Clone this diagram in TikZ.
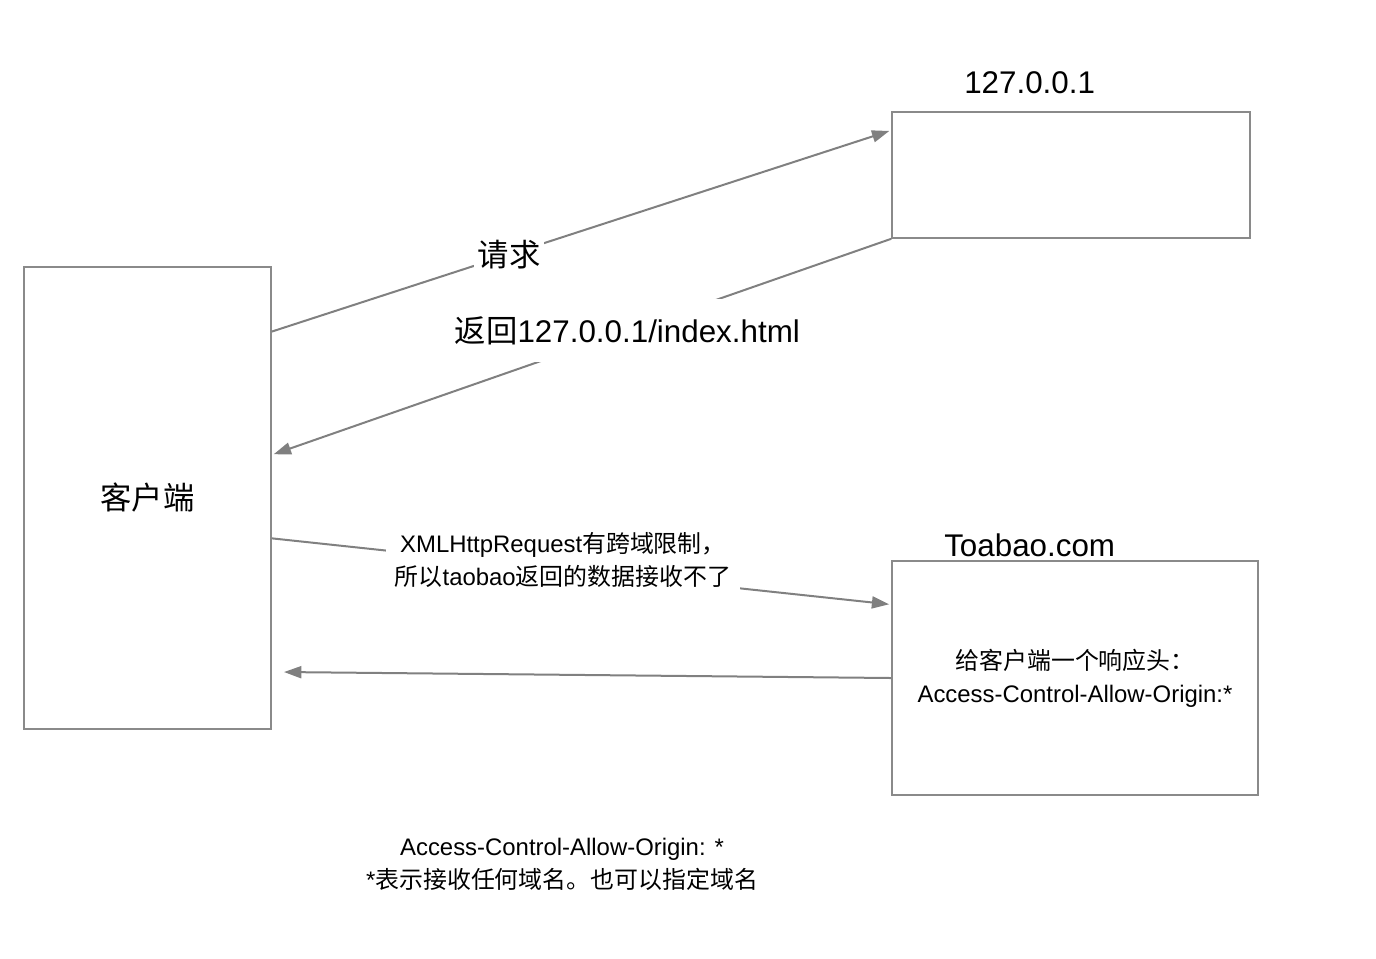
\documentclass[tikz,border=0pt]{standalone}
\usepackage{fontspec}
\setmainfont{Liberation Sans}
\newfontfamily\cjk{Noto Sans CJK SC}
\newcommand\zhtext[1]{{\cjk #1}}
\usepackage{tikz}
\usetikzlibrary{arrows.meta}
\usetikzlibrary{positioning}
\usetikzlibrary{calc}
\definecolor{linegray}{HTML}{808080}
\definecolor{boxgray}{HTML}{8A8A8A}

\begin{document}
\begin{tikzpicture}[x=0.75bp,y=-0.75bp,>={Triangle[length=13bp,width=9bp]},
  box/.style={rectangle,draw=boxgray,line width=1.2bp},
  big/.style={font=\fontsize{23.6}{28}\selectfont},
  small/.style={font=\fontsize{18}{24.75}\selectfont},
  arrow/.style={->,draw=linegray,line width=1.5bp,shorten >=1.5bp},
  lbl/.style={fill=white,inner sep=3bp}]

  \useasboundingbox (0,0) rectangle (1376,958);

  \node[box,big,minimum width=185.25bp,minimum height=346.5bp] (client) at (147.5,498) {\zhtext{客户端}};
  \node[box,minimum width=268.5bp,minimum height=94.5bp] (local) at (1071,175) {};
  \node[box,minimum width=274.5bp,minimum height=175.5bp] (taobao) at (1075,678) {};

  \node[big,inner sep=0pt] (locala) [above=13bp of local.north,xshift=-31bp] {127.0.0.1};
  \node[big,inner sep=0pt] (taobaoa) [above=2bp of taobao.north,xshift=-34bp] {Toabao.com};
  \node[small,align=center] (hdr) at (taobao) {\zhtext{给客户端一个响应头：}\\Access-Control-Allow-Origin:*};

  \coordinate (back) at (282,672);

  \draw[arrow] ($(client.north east)!0.141!(client.south east)$) -- node[lbl,big,pos=0.383] (req) {\zhtext{请求}} ($(local.north west)!0.15!(local.south west)$);
  \draw[arrow] (local.south west) -- node[lbl,big,pos=0.426,inner ysep=13bp] (ret) {\zhtext{返回}127.0.0.1/index.html} ($(client.north east)!0.407!(client.south east)$);
  \draw[arrow] ($(client.north east)!0.587!(client.south east)$) -- node[lbl,small,align=center,pos=0.47,yshift=7bp,inner xsep=7bp] (xhr) {XMLHttpRequest\zhtext{有跨域限制，}\\\zhtext{所以}taobao\zhtext{返回的数据接收不了}} ($(taobao.north west)!0.188!(taobao.south west)$);
  \draw[arrow] (taobao.west) -- (back);

  \node[small,align=center] (note) at (562,864) {Access-Control-Allow-Origin: *\\*\zhtext{表示接收任何域名。也可以指定域名}};
\end{tikzpicture}
\end{document}
